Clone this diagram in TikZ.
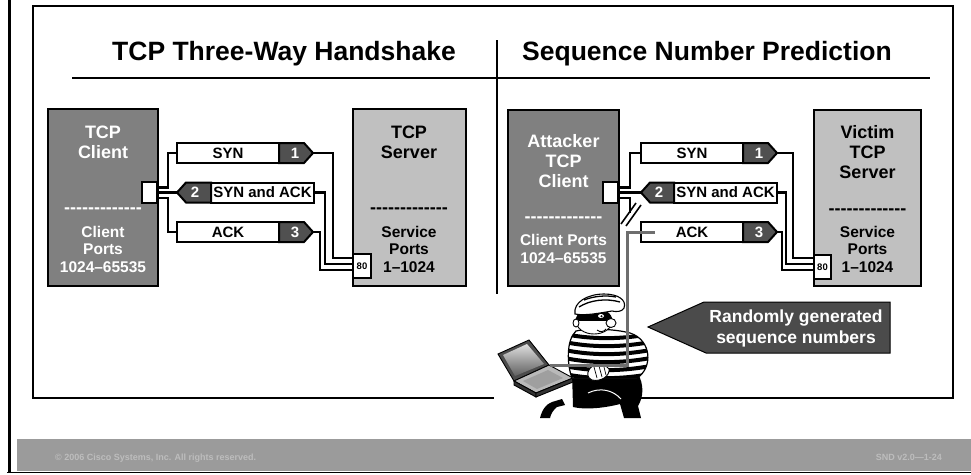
\documentclass[tikz,border=0pt]{standalone}
\usepackage{fontspec}
\setmainfont{Liberation Sans}
\usetikzlibrary{calc}
\definecolor{clientgray}{HTML}{808080}
\definecolor{servergray}{HTML}{C0C0C0}
\definecolor{taggray}{HTML}{505050}
\definecolor{calloutgray}{HTML}{4B4B4B}
\definecolor{wiregray}{HTML}{6E6E6E}
\definecolor{footgray}{HTML}{9B9B9B}
\definecolor{foottext}{HTML}{BDBDBD}
\newcommand{\hy}{-\kern0pt}
\newcommand{\dashrow}{\hy\hy\hy\hy\hy\hy\hy\hy\hy\hy\hy\hy\hy}
\begin{document}
\begin{tikzpicture}[x=1pt,y=-1pt,
  hostbox/.style={draw=black,line width=2pt,anchor=north west,inner sep=0pt,outer sep=0pt},
  hostlabel/.style={anchor=base,inner sep=0pt,font=\fontsize{18}{20}\selectfont\bfseries},
  hostsub/.style={anchor=base,inner sep=0pt,font=\fontsize{15.5}{17}\selectfont\bfseries},
  dashlabel/.style={inner sep=0pt,font=\fontsize{18}{20}\selectfont\bfseries},
  msgbar/.style={draw=black,fill=white,line width=2pt,anchor=north west,minimum height=20pt,inner sep=0pt,outer sep=0pt,font=\fontsize{15}{17}\selectfont\bfseries},
  tagshape/.style={draw=black,fill=taggray,line width=2pt,line join=miter},
  tagnum/.style={text=white,inner sep=0pt,font=\fontsize{15}{17}\selectfont\bfseries},
  portbox/.style={draw=black,fill=white,line width=2pt,anchor=north west,inner sep=0pt,outer sep=0pt,font=\fontsize{9.5}{10}\selectfont\bfseries},
  wire/.style={draw=black,line width=2.2pt,line join=miter},
  attackwire/.style={draw=wiregray,line width=3pt},
  titletext/.style={anchor=base,inner sep=0pt,font=\fontsize{26.5}{30}\selectfont\bfseries},
  foottxt/.style={inner sep=0pt,text=foottext,font=\fontsize{9}{10}\selectfont\bfseries},
  outline/.style={draw=black,line width=0.9pt}
]
\useasboundingbox (0,0) rectangle (971,474);

% page edges and footer band
\draw[line width=3pt] (9,0) -- (9,473);
\draw[line width=1.5pt] (7,472.5) -- (971,472.5);
\fill[footgray] (17,439) rectangle (971,471);
\node[foottxt,anchor=base west] (copyright) at (55,460) {© 2006 Cisco Systems, Inc. All rights reserved.};
\node[foottxt,anchor=base east] (slidecode) at (942,460) {SND v2.0—1-24};

% slide frame, titles, rule and divider
\draw[line width=2pt] (33,6) rectangle (953,398);
\node[titletext] (titleL) at (284,60) {TCP Three-Way Handshake};
\node[titletext] (titleR) at (707,60) {Sequence Number Prediction};
\draw[line width=2pt] (72,78) -- (930,78);
\draw[line width=2pt] (497,40) -- (497,294);

% ---------------- left panel: normal handshake ----------------
\node[hostbox,fill=clientgray,minimum width=110pt,minimum height=177pt] (client) at (48,109) {};
\node[hostlabel,text=white] (clientA) at (103,138.5) {TCP};
\node[hostlabel,text=white] (clientB) at (103,158) {Client};
\node[dashlabel,text=white] (clientD) at (103,211) {\dashrow};
\node[hostsub,text=white] (clientC) at (103,237) {Client};
\node[hostsub,text=white] (clientE) at (103,254) {Ports};
\node[hostsub,text=white] (clientF) at (103,272) {1024–65535};

\node[hostbox,fill=servergray,minimum width=113pt,minimum height=177pt] (server) at (353,109) {};
\node[hostlabel] (serverA) at (409,138.5) {TCP};
\node[hostlabel] (serverB) at (409,158) {Server};
\node[dashlabel] (serverD) at (409,211) {\dashrow};
\node[hostsub] (serverC) at (409,237) {Service};
\node[hostsub] (serverE) at (409,254) {Ports};
\node[hostsub] (serverF) at (409,272) {1–1024};

\node[portbox,minimum width=15pt,minimum height=21pt] (cport) at (142,182) {};
\node[portbox,minimum width=18pt,minimum height=24pt] (sport) at (353,254) {80};

% messages
\node[msgbar,minimum width=102pt] (syn) at (177,143) {SYN};
\filldraw[tagshape] (syn.north east) -- ++(25,0) -- ++(9,10) -- ++(-9,10) -- (syn.south east) -- cycle;
\node[tagnum] (num1) at ($(syn.east)+(16,0)$) {1};
\coordinate (tip1) at ($(syn.east)+(34,0)$);

\node[msgbar,minimum width=103pt] (synack) at (211,182.5) {SYN and ACK};
\filldraw[tagshape] (synack.north west) -- ++(-25,0) -- ++(-9,10) -- ++(9,10) -- (synack.south west) -- cycle;
\node[tagnum] (num2) at ($(synack.west)+(-16,0)$) {2};
\coordinate (tip2) at ($(synack.west)+(-34,0)$);

\node[msgbar,minimum width=102pt] (ack) at (177,222) {ACK};
\filldraw[tagshape] (ack.north east) -- ++(25,0) -- ++(9,10) -- ++(-9,10) -- (ack.south east) -- cycle;
\node[tagnum] (num3) at ($(ack.east)+(16,0)$) {3};
\coordinate (tip3) at ($(ack.east)+(34,0)$);

% wiring
\draw[wire] ([yshift=5pt]cport.east) -| ([xshift=-9pt]syn.west) -- (syn.west);
\draw[wire] (cport.east) -- (tip2);
\draw[wire] ([yshift=-5.5pt]cport.east) -| ([xshift=-9pt]ack.west) -- (ack.west);
\draw[wire] (tip1) -- ++(20,0) |- ([yshift=8pt]sport.west);
\draw[wire] (synack.east) -- ++(11,0) |- ([yshift=2pt]sport.west);
\draw[wire] (tip3) -- ++(7,0) |- ([yshift=-4pt]sport.west);

% ---------------- right panel: sequence number prediction ----------------
\node[hostbox,fill=clientgray,minimum width=111pt,minimum height=176pt] (attacker) at (508,110) {};
\node[hostlabel,text=white] (attA) at (563.5,147) {Attacker};
\node[hostlabel,text=white] (attB) at (563.5,167) {TCP};
\node[hostlabel,text=white] (attC) at (563.5,187) {Client};
\node[dashlabel,text=white] (attD) at (563.5,220) {\dashrow};
\node[hostsub,text=white] (attE) at (563.5,245) {Client Ports};
\node[hostsub,text=white] (attF) at (563.5,263) {1024–65535};

\node[hostbox,fill=servergray,minimum width=107pt,minimum height=176pt] (victim) at (814,110) {};
\node[hostlabel] (vicA) at (867.5,138.5) {Victim};
\node[hostlabel] (vicB) at (867.5,158) {TCP};
\node[hostlabel] (vicC) at (867.5,178) {Server};
\node[dashlabel] (vicD) at (867.5,212) {\dashrow};
\node[hostsub] (vicE) at (867.5,237) {Service};
\node[hostsub] (vicF) at (867.5,254) {Ports};
\node[hostsub] (vicG) at (867.5,272) {1–1024};

\node[portbox,minimum width=15pt,minimum height=21pt] (aport) at (603,182) {};
\node[portbox,minimum width=17pt,minimum height=24pt] (vport) at (814,255) {80};

\node[msgbar,minimum width=102pt] (synB) at (641,143) {SYN};
\filldraw[tagshape] (synB.north east) -- ++(25,0) -- ++(9,10) -- ++(-9,10) -- (synB.south east) -- cycle;
\node[tagnum] (num1B) at ($(synB.east)+(16,0)$) {1};
\coordinate (tip1B) at ($(synB.east)+(34,0)$);

\node[msgbar,minimum width=103pt] (synackB) at (674,182.5) {SYN and ACK};
\filldraw[tagshape] (synackB.north west) -- ++(-24,0) -- ++(-9,10) -- ++(9,10) -- (synackB.south west) -- cycle;
\node[tagnum] (num2B) at ($(synackB.west)+(-15,0)$) {2};
\coordinate (tip2B) at ($(synackB.west)+(-33,0)$);

\node[msgbar,minimum width=102pt] (ackB) at (641,222) {ACK};
\filldraw[tagshape] (ackB.north east) -- ++(25,0) -- ++(9,10) -- ++(-9,10) -- (ackB.south east) -- cycle;
\node[tagnum] (num3B) at ($(ackB.east)+(16,0)$) {3};
\coordinate (tip3B) at ($(ackB.east)+(34,0)$);

\coordinate (cut) at (630,213);
\draw[wire] ([yshift=5pt]aport.east) -| ([xshift=-11pt]synB.west) -- (synB.west);
\draw[wire] (aport.east) -- (tip2B);
\draw[wire] ([yshift=-5.5pt]aport.east) -| (cut);
\draw[wire,line width=1.6pt] ($(cut)+(-9,11)$) -- ++(15,-21);
\draw[wire,line width=1.6pt] ($(cut)+(-4,13)$) -- ++(15,-21);
\draw[wire] (tip1B) -- ++(16,0) |- ([yshift=9pt]vport.west);
\draw[wire] (synackB.east) -- ++(9,0) |- ([yshift=3pt]vport.west);
\draw[wire] (tip3B) -- ++(5,0) |- ([yshift=-3pt]vport.west);

% ---------------- burglar with laptop ----------------
\fill[white] (494,386) rectangle (574,402);
% laptop lid, screen and base
\filldraw[outline,fill=gray!60!black] (498,354) -- (529,340) -- (549,365) -- (514,381) -- cycle;
\shade[top color=gray!25,bottom color=gray!75!black] (503,355) -- (527,344) -- (544,364) -- (515,376) -- cycle;
\filldraw[outline,fill=gray!55] (514,381) -- (549,365) -- (573,378) -- (536,393) -- cycle;
\fill[gray!75] (523,381) -- (548,370) -- (563,378) -- (537,389) -- cycle;
\filldraw[outline,fill=gray!40!black] (514,381) -- (536,393) -- (536,397) -- (514,385) -- cycle;
\filldraw[outline,fill=gray!40!black] (536,393) -- (573,378) -- (573,382) -- (536,397) -- cycle;
% shoe and trousers
\fill[black] (540,418) .. controls (542,410) and (546,404) .. (552,402) -- (562,399) -- (565,405) -- (557,407) .. controls (553,410) and (551,414) .. (550,418) -- cycle;
\fill[black] (572,372) -- (637,372) .. controls (645,385) and (643,398) .. (638,406) -- (641,418) -- (624,418) -- (620,404) .. controls (605,408) and (585,410) .. (573,407) -- cycle;
\draw[white,line width=1pt] (588,393) .. controls (600,387) and (613,390) .. (621,399);
% striped shirt
\begin{scope}
  \clip (576,331) .. controls (566,340) and (567,365) .. (572,378) -- (637,378) .. controls (653,368) and (652,340) .. (630,333) .. controls (615,329) and (590,328) .. (576,331) -- cycle;
  \fill[white] (560,320) rectangle (660,385);
  \foreach \yy in {336,344,352,360,368,376}
    \draw[line width=4pt] (560,\yy-3) .. controls (590,\yy+4) and (625,\yy+4) .. (660,\yy-4);
\end{scope}
\draw[outline,line width=1.2pt] (576,331) .. controls (566,340) and (567,365) .. (572,378) -- (637,378) .. controls (653,368) and (652,340) .. (630,333) .. controls (615,329) and (590,328) .. (576,331) -- cycle;
% hands
\filldraw[outline,fill=white] (589,370) .. controls (592,363) and (605,363) .. (609,369) .. controls (610,376) and (601,382) .. (592,380) .. controls (587,378) and (587,373) .. (589,370) -- cycle;
\draw[line width=0.7pt] (594,367) -- (597,378) (599,366) -- (602,377) (604,367) -- (606,375);
% head with mask and nose
\filldraw[outline,fill=white] (594,321) ellipse [x radius=18pt,y radius=13pt];
\begin{scope}
  \clip (594,321) ellipse [x radius=18pt,y radius=13pt];
  \fill[black] (570,311) rectangle (620,321);
\end{scope}
\fill[white] (601,316) ellipse [x radius=3pt,y radius=2pt];
\fill[black] (601.5,316.3) circle [radius=1.1pt];
\filldraw[outline,fill=white] (576,323) ellipse [x radius=3pt,y radius=4pt];
\filldraw[outline,fill=white] (611,323) ellipse [x radius=5pt,y radius=4.5pt];
\draw[line width=0.9pt] (597,330) .. controls (600,332.5) and (604,332) .. (606,329);
% striped cap
\filldraw[outline,line width=1.1pt,fill=white] (575,314) .. controls (573,302) and (588,294) .. (604,294) .. controls (618,294) and (627,300) .. (624,308) .. controls (622,312) and (616,312) .. (612,311) .. controls (600,313) and (585,316) .. (575,314) -- cycle;
\draw[line width=1.3pt] (579,307) .. controls (590,300) and (606,298) .. (620,302);
\draw[line width=1.3pt] (584,300) .. controls (594,296) and (606,295) .. (616,297);

% injected packet path from the attacker's laptop
\coordinate (laptop) at (550,365);
\draw[attackwire] (laptop) -| ([xshift=-14pt]ackB.west) -- ([xshift=14pt]ackB.west);

% callout
\filldraw[draw=black,line width=1pt,fill=calloutgray] (648,327) -- (704,302) -- (890,302) -- (890,353) -- (706,353) -- cycle;
\node[align=center,text=white,inner sep=0pt,font=\fontsize{17.5}{21}\selectfont\bfseries] (rnd) at (796,328) {Randomly generated\\sequence numbers};
\end{tikzpicture}
\end{document}
